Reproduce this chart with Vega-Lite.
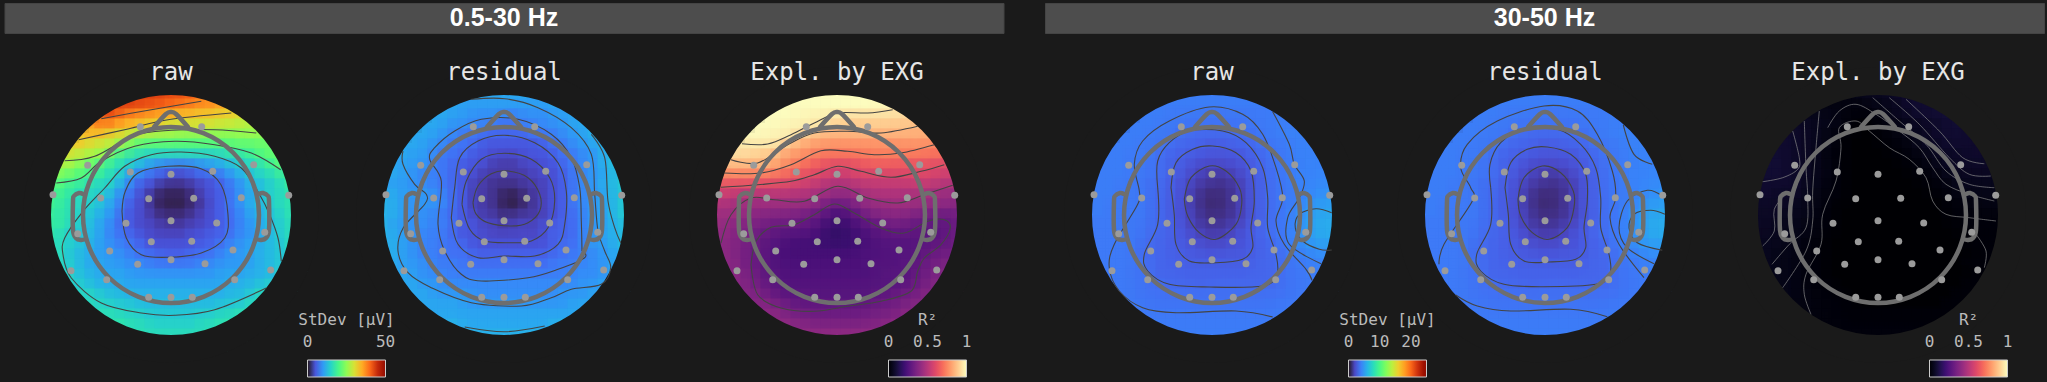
{"$schema":"https://vega.github.io/schema/vega-lite/v6.json","background":"#1a1a1a","padding":{"left":3.5,"top":2,"right":4,"bottom":4},
"config":{"view":{"stroke":null},"title":{"font":"DejaVu Sans Mono","fontSize":24,"fontWeight":"normal","color":"#e6e6e6","baseline":"alphabetic","offset":-18,"anchor":"middle"},
"legend":{"orient":"none","direction":"horizontal","gradientLength":78,"gradientThickness":17,"gradientStrokeColor":"#ccc","gradientStrokeWidth":1,"titleFont":"DejaVu Sans Mono","titleFontSize":16,"titleFontWeight":"normal","titleColor":"#bbb","titleAnchor":"middle","titlePadding":32,"labelFont":"DejaVu Sans Mono","labelFontSize":16,"labelColor":"#bbb","labelOverlap":false}},
"datasets":{
"o":[{"x":0,"y":0}],
"blank":[{"t":""}],
"head":[{"k":"nose","x":[-1.7,-0.5,0,0.5,1.7],"y":[8.8,10.1,10.3,10.1,8.8]},{"k":"earL","x":[-8.8,-9.2,-9.7,-9.8,-9.8,-9.5,-9,-8.5],"y":[2.1,2.2,1.9,1.4,-1.5,-2.3,-2.5,-2.4]},{"k":"earR","x":[8.8,9.2,9.7,9.8,9.8,9.5,9,8.5],"y":[2.1,2.2,1.9,1.4,-1.5,-2.3,-2.5,-2.4]}],
"dots":[{"x":-3.07,"y":8.83},{"x":3.07,"y":8.83},{"x":-8.33,"y":4.97},{"x":8.27,"y":5.03},{"x":-4.07,"y":4.3},{"x":4.17,"y":4.37},{"x":0,"y":4.07},{"x":-11.8,"y":2.03},{"x":11.77,"y":1.97},{"x":-7.03,"y":1.7},{"x":-2.23,"y":1.63},{"x":2.27,"y":1.67},{"x":7.03,"y":1.73},{"x":-4.5,"y":-0.83},{"x":0,"y":-0.57},{"x":4.57,"y":-0.8},{"x":-9.33,"y":-1.87},{"x":9.37,"y":-1.73},{"x":-1.97,"y":-2.67},{"x":2.07,"y":-2.63},{"x":-6.13,"y":-3.6},{"x":6.2,"y":-3.5},{"x":0,"y":-4.47},{"x":-3.33,"y":-4.93},{"x":3.4,"y":-4.87},{"x":-10,"y":-5.57},{"x":9.97,"y":-5.5},{"x":-6.43,"y":-6.47},{"x":6.37,"y":-6.47},{"x":-2.23,"y":-8.23},{"x":0,"y":-8.23},{"x":2.13,"y":-8.23}],
"c1":[{"k":1,"x":[-4.9,-4.57,-3.3,-0.3,3,5,5.7,5.37,3.03,-0.3,-2.97,-4.47,-4.9],"y":[0.37,2.37,4.2,4.87,4.63,3.03,0.03,-2.3,-3.8,-4.23,-3.97,-2.3,0.37]},
{"k":2,"x":[11.03,10.7,9.87,8.87,7.03,4.37,1.03,-1.97,-4.63,-6.63,-8.8,-10.63,-10.8,-9.97,-6.97,-2.97,0.37,4.37,9.53],"y":[-4.63,-2.3,0.03,2.03,4.7,5.87,6.3,6.03,4.87,2.7,0.37,-2.3,-3.97,-6.3,-8.8,-9.8,-10.03,-9.47,-7.3]},
{"k":3,"x":[-11.47,-8.97,-6.97,-3.63,0.37,4.37,8.03,10.97],"y":[3.2,3.7,5.37,6.87,7.37,7.03,6.2,4.53]},
{"k":4,"x":[-10.63,-7.63,-3.63,0.03,4.37,8.53],"y":[5.43,5.87,7.97,8.47,8.53,8.2]},
{"k":5,"x":[-9.23,-4.3,-0.3,6.03],"y":[7.53,8.6,9.53,10.2]},
{"k":6,"x":[-6.97,-1.97,3.03],"y":[9.63,10.53,11.37]}],
"c2":[{"k":1,"x":[-3.1,-2.6,-1.27,0.4,2.4,3.57,3.57,2.4,0.73,-1.6,-2.77,-3.1],"y":[1.23,2.9,4.13,4.4,3.73,2.07,0.4,-0.77,-1.1,-0.77,0.07,1.23]},
{"k":2,"x":[-4.2,-3.77,-2.27,0.07,2.73,4.57,5.07,4.4,2.73,0.73,-1.93,-3.43,-4.2],"y":[1.07,3.4,5.57,6.17,5.57,3.73,1.4,-1.27,-2.6,-2.77,-2.6,-1.43,1.07]},
{"k":3,"x":[-5.27,-4.93,-4.43,-2.6,0.07,3.07,5.4,6.23,6.07,5.4,3.07,0.07,-2.6,-4.6,-5.27],"y":[-0.27,2.73,5.73,7.4,7.97,7.23,5.23,2.4,-0.93,-2.93,-4.1,-4.1,-4.27,-2.93,-0.27]},
{"k":4,"x":[7.8,7.73,7.57,6.73,4.73,1.4,-2.27,-4.93,-6.93,-7.43,-6.27,-6.6,-5.93,-4.27,-2.27,2.4,5.4,8.07,7.8],"y":[-3.6,-0.6,2.73,5.73,8.07,9.57,9.57,8.4,6.73,5.57,3.4,-0.93,-3.6,-5.93,-6.6,-6.27,-5.43,-4.27,-3.6]},
{"k":5,"x":[-3.27,0.07,3.4,6.73,8.73,9.07,9.4,10.07,10.67,9.73,6.73,4.73,1.73,-3.27,-7.27,-9.6,-10.6,-10.07,-7.93,-7.77,-8.93,-10.1,-10.1],"y":[11.57,11.63,10.73,8.73,6.07,2.07,-1.6,-3.6,-5.27,-6.93,-7.43,-8.27,-9.1,-8.77,-7.27,-5.77,-3.6,-1.27,1.07,2.07,3.07,5.07,6.4]},
{"k":6,"x":[8.73,10.07,10.4,11.07,11.67],"y":[8.07,5.73,1.4,-1.27,-2.77]},
{"k":7,"x":[-3.93,0.07,4.07],"y":[-11.2,-11.67,-11.1]}],
"c3":[{"k":1,"x":[-9.5,-6.93,-4.6,-2.27,0.07,3.07,5.57],"y":[7.13,7.1,8.03,9.2,10.2,10.2,10.53]},
{"k":2,"x":[-10.6,-7.93,-4.93,-2.27,1.07,4.4,8.07],"y":[5.53,5.2,7.03,8.2,8.37,8.2,8.87]},
{"k":3,"x":[-11.27,-7.6,-4.6,-1.6,1.07,3.73,6.4,9.73],"y":[4.2,4.2,5.03,6.43,6.37,6.03,6.2,7.03]},
{"k":4,"x":[-11.6,-7.93,-4.6,-2.27,0.07,2.4,5.4,8.4,10.73],"y":[2.77,3.03,3.37,4.03,4.87,4.37,3.77,4.37,5.03]},
{"k":5,"x":[-11.6,-10.6,-8.6,-6.27,-3.27,0.07,3.07,6.07,8.73,11.57],"y":[-2.8,0.03,1.7,1.53,1.37,2.87,1.7,1.2,2.03,2.97]},
{"k":6,"x":[-8.6,-8.1,-6.6,-4.27,-2.27,-0.27,1.73,4.4,6.73,9.07,10.73,11.33,10.4,8.73,8.07,7.4,4.4,1.07,-2.27,-5.6,-7.93,-8.6],"y":[-4.97,-2.63,-1.23,-0.97,0.03,1.1,0.2,-1.3,-1.8,-0.63,-0.47,-1.3,-2.97,-4.3,-5.63,-7.63,-8.63,-9.13,-9.63,-9.3,-7.97,-4.97]}],
"c4":[{"k":1,"x":[-2.77,-2.1,-0.27,1.4,2.73,2.97,2.4,0.4,-1.27,-2.43,-2.77],"y":[1.57,3.73,4.9,4.4,2.73,1.07,-0.93,-2.43,-1.77,-0.1,1.57]},
{"k":2,"x":[-4.1,-3.6,-1.93,0.07,2.4,3.9,4.23,3.9,4.07,3.07,0.4,-2.27,-3.6,-3.77,-4.1],"y":[2.73,5.23,6.57,6.9,6.23,4.4,1.4,-1.27,-3.27,-4.43,-4.77,-4.6,-2.93,0,2.73]},
{"k":3,"x":[-5.43,-5.43,-4.27,-2.27,1.07,3.4,5.07,5.57,5.57,6.4,6.5,5.07,-0.27,-4.27,-6.43,-6.77,-5.43,-5.43],"y":[2.73,5.4,7.23,8.4,8.4,7.23,4.73,1.73,-1.27,-3.93,-5.93,-7.1,-7.2,-6.93,-5.6,-3.93,-0.93,2.73]},
{"k":4,"x":[6.07,2.4,-3.6,-6.93,-9.27,-10.27,-9.77,-7.43,-7.27,-7.77,-6.93,-4.27,-0.27,3.07,5.07,6.4,7.07,6.4,7.23,9.4,10],"y":[-10.2,-9.6,-9.77,-9.27,-7.6,-5.27,-2.93,1.07,2.4,5.07,7.4,9.4,10.8,10.07,8.07,4.73,1.73,-0.6,-2.93,-5.43,-6.53]},
{"k":5,"x":[6.07,7.73,8.23,9.23,8.73,7.57,7.73,10.9],"y":[10.33,7.07,5.07,3.4,1.73,-0.27,-2.93,-4.87]},
{"k":6,"x":[11.97,10.4,8.73,8.33,9.07,10.73,11.97],"y":[0.23,0.63,0.07,-1.27,-2.6,-3.43,-3.5]}],
"c5":[{"k":1,"x":[-2.7,-2.1,-0.27,1.57,2.83,2.9,2.23,0.4,-1.27,-2.43,-2.7],"y":[1.57,3.73,4.9,4.23,2.4,0.73,-1.27,-2.43,-1.77,-0.1,1.57]},
{"k":2,"x":[-4,-3.43,-1.77,0.23,2.57,4.07,4.23,3.9,4.07,3.07,0.4,-2.1,-3.43,-3.67,-4],"y":[2.73,5.23,6.57,6.8,6.07,4.07,1.4,-1.27,-3.27,-4.43,-4.7,-4.6,-2.93,0.07,2.73]},
{"k":3,"x":[-5.43,-5.5,-4.43,-2.1,1.23,3.57,5.07,5.57,5.57,6.4,6.5,5.07,-0.1,-4.1,-6.43,-6.83,-5.43,-5.43],"y":[2.73,5.07,7.23,8.57,8.57,7.07,4.73,1.73,-1.27,-3.93,-5.93,-6.93,-7.17,-6.93,-5.6,-3.93,-0.93,2.73]},
{"k":4,"x":[-8.93,-6.77,-3.43,2.57,6.23],"y":[-8,-9.1,-9.6,-9.43,-10.17]},
{"k":5,"x":[-10.6,-10.1,-7.27,-7.43,-8.43,-7.77,-4.77,-0.1,3.23,5.23,6.73,7.07,6.5,7.4,9.9],"y":[-4.93,-2.93,1.4,2.73,4.73,7.07,9.4,10.9,10.4,8.07,4.4,1.73,-0.27,-2.93,-6.27]},
{"k":6,"x":[7.83,8.9,10.73],"y":[9,6.07,5.07]},
{"k":7,"x":[11.73,10.23,8.23,7.4,8.23,10.9],"y":[1.9,2.47,1.4,-1.27,-3.27,-4.87]},
{"k":8,"x":[12,10.57,8.9,8.4,9.23,11.73],"y":[0.07,0.47,0.07,-1.27,-2.77,-3.53]}],
"c6":[{"k":1,"x":[-11.53,-9.53,-8.03,-7.87,-8.53],"y":[3.33,3.73,4.57,5.73,8.4]},
{"k":2,"x":[-11.53,-10.37,-10.37,-9.2],"y":[-3.1,-1.6,0.57,2.07]},
{"k":3,"x":[-10.6,-8.87,-7.2,-7.03,-7.2,-7.37],"y":[-4.93,-2.93,-1.27,1.73,4.73,9.4]},
{"k":4,"x":[-9.53,-7.2,-6.53,-6.53,-6.2,-5.87],"y":[-7.27,-3.6,-0.6,2.4,6.73,10.4]},
{"k":5,"x":[-6.7,-7.37,-7.2,-5.7,-5.53,-4.2,-3.7,-3.87,-2.2,-0.87,1.13,3.13,4.8,5.47,6.8,9.13,11.8],"y":[-9.93,-7.93,-5.93,-2.93,0.07,3.4,6.73,8.73,9.4,8.4,6.73,5.57,3.73,1.4,0.07,-0.27,-0.6]},
{"k":6,"x":[-5.03,-3.87,-2.2,-0.2,2.13,4.13,5.47,6.8,9.13,11.63],"y":[8.73,10.4,11.07,10.07,8.4,6.73,4.73,3.07,2.07,1.4]},
{"k":7,"x":[-0.53,2.13,4.8,6.8,9.13,11.63],"y":[11.73,9.4,7.07,4.4,3.07,2.73]},
{"k":8,"x":[1.13,4.13,7.13,9.13,11.27],"y":[11.73,9.07,5.73,4.07,3.9]},
{"k":9,"x":[2.8,6.13,8.47,10.63],"y":[11.57,8.4,5.73,5.13]},
{"k":10,"x":[9.8,10.8,10.63],"y":[-1.93,-3.6,-5.27]}],
"raw1":[
{"y":12,"v":[null,null,null,null,null,null,null,null,44,44,43,43,42,42,41,40,39]},
{"y":11,"v":[null,null,null,null,null,null,44,43,42,41,41,40,39,38,37,36,36,35,34]},
{"y":10,"v":[null,null,null,null,null,42,41,38,37,36,35,34,33,33,33,32,32,31,31,30]},
{"y":9,"v":[null,null,null,null,37,37,36,34,33,32,31,30,29,29,29,29,29,28,28,27,27]},
{"y":8,"v":[null,null,null,33,33,32,30,29,27,26,25,25,25,24,24,24,24,24,24,25,25,25]},
{"y":7,"v":[null,null,33,31,29,28,27,24,22,20,20,20,20,20,20,20,20,20,21,21,21,22,22]},
{"y":6,"v":[null,30,28,27,26,25,20,18,16,15,14,14,14,14,14,14,14,15,16,17,19,21,22,23]},
{"y":5,"v":[null,27,25,23,21,19,17,15,13,11,9,8,7,7,8,9,10,11,13,14,15,17,19,21]},
{"y":4,"v":[24,23,21,20,19,17,15,13,9,7,6,5,4,4,5,6,6,8,10,12,14,15,16,18,20]},
{"y":3,"v":[21,19,18,17,15,15,14,10,7,5,4,2,2,2,3,4,5,6,8,10,12,13,15,16,18]},
{"y":2,"v":[20,18,17,15,15,14,11,8,6,4,2,1,1,1,2,4,5,6,8,10,12,14,15,16,17]},
{"y":1,"v":[19,17,16,15,14,12,10,7,5,4,2,1,1,1,2,3,5,6,8,10,12,13,15,16,17]},
{"y":0,"v":[18,17,16,14,13,11,9,6,5,4,3,2,2,2,3,4,5,6,7,9,11,12,14,15,17]},
{"y":-1,"v":[18,17,15,14,12,10,8,6,5,4,4,3,3,3,4,4,5,6,7,9,10,12,13,15,16]},
{"y":-2,"v":[17,15,14,13,12,10,8,7,6,5,4,4,4,4,5,5,6,6,8,9,10,12,13,15,16]},
{"y":-3,"v":[17,15,14,13,11,10,9,8,7,6,5,5,5,5,5,6,6,8,9,10,11,12,13,14,16]},
{"y":-4,"v":[17,15,13,12,11,10,10,9,8,7,7,6,6,6,7,7,8,9,10,10,11,12,13,14,15]},
{"y":-5,"v":[null,15,14,12,11,11,10,10,9,9,8,8,8,8,8,9,9,10,10,10,11,12,13,14]},
{"y":-6,"v":[null,16,14,13,12,11,11,11,10,10,10,10,10,10,10,10,10,11,11,11,12,12,13,15]},
{"y":-7,"v":[null,null,15,14,13,12,12,11,11,11,11,11,11,11,11,11,11,11,12,12,13,14,15]},
{"y":-8,"v":[null,null,null,16,15,14,13,13,12,12,12,12,12,12,12,12,12,12,13,13,15,16]},
{"y":-9,"v":[null,null,null,null,16,15,15,14,14,13,13,13,13,13,13,13,13,14,14,15,16]},
{"y":-10,"v":[null,null,null,null,null,17,16,16,15,15,14,14,14,14,14,15,15,16,16,17]},
{"y":-11,"v":[null,null,null,null,null,null,17,17,16,16,15,15,15,15,15,16,16,17,17]},
{"y":-12,"v":[null,null,null,null,null,null,null,null,17,16,16,16,16,16,16,16,17]}],
"res1":[
{"y":12,"v":[null,null,null,null,null,null,null,null,11,11,11,11,11,11,11,11,11]},
{"y":11,"v":[null,null,null,null,null,null,11,11,10,10,10,10,10,10,10,10,10,11,11]},
{"y":10,"v":[null,null,null,null,null,11,11,10,10,9,9,9,8,8,9,9,9,10,10,11]},
{"y":9,"v":[null,null,null,null,11,11,10,9,9,8,8,7,7,7,8,8,9,9,10,11,11]},
{"y":8,"v":[null,null,null,11,11,10,9,8,7,7,6,6,6,6,6,7,7,8,9,10,11,12]},
{"y":7,"v":[null,null,11,11,10,9,8,7,7,6,5,5,5,5,5,5,6,7,8,9,10,11,12]},
{"y":6,"v":[null,11,11,10,10,8,7,7,6,5,5,4,4,4,5,5,5,6,7,8,9,10,12,13]},
{"y":5,"v":[null,11,10,10,9,8,7,6,5,5,4,3,3,3,4,4,5,5,7,8,9,10,12,13]},
{"y":4,"v":[11,11,10,9,8,8,7,6,5,4,3,3,3,3,3,4,4,5,6,8,9,10,11,13,14]},
{"y":3,"v":[11,10,10,9,9,8,7,6,5,3,3,2,2,2,3,3,4,5,6,8,9,10,12,13,14]},
{"y":2,"v":[12,11,10,10,10,9,8,6,5,3,3,2,1,1,2,3,4,5,6,8,9,10,11,13,14]},
{"y":1,"v":[12,11,10,9,10,9,8,6,5,3,3,2,1,1,2,3,4,5,6,8,9,10,11,13,14]},
{"y":0,"v":[12,11,10,9,9,8,7,6,5,4,3,3,2,3,3,3,4,5,6,7,9,10,11,13,14]},
{"y":-1,"v":[12,10,10,9,9,8,8,6,5,5,4,4,3,4,4,4,5,6,6,7,9,10,11,12,13]},
{"y":-2,"v":[12,11,10,9,8,8,7,6,5,5,4,4,4,4,4,4,5,6,6,7,9,10,11,12,13]},
{"y":-3,"v":[12,11,10,9,8,8,7,7,6,5,5,5,5,5,5,5,5,6,7,7,9,10,10,12,13]},
{"y":-4,"v":[12,11,10,9,8,8,7,7,7,6,6,6,6,6,6,6,6,7,7,8,8,9,10,11,12]},
{"y":-5,"v":[null,11,10,10,9,8,8,8,7,7,7,7,7,7,7,7,7,8,8,8,9,9,10,11]},
{"y":-6,"v":[null,11,11,10,9,9,8,8,8,8,8,8,8,8,8,8,8,8,8,9,9,9,10,11]},
{"y":-7,"v":[null,null,11,11,10,10,9,9,9,9,9,9,9,9,9,9,9,9,9,9,10,10,11]},
{"y":-8,"v":[null,null,null,11,11,10,10,10,10,9,9,9,9,9,9,9,9,9,10,10,10,11]},
{"y":-9,"v":[null,null,null,null,11,11,11,11,10,10,10,10,10,10,10,10,10,10,10,11,11]},
{"y":-10,"v":[null,null,null,null,null,11,11,11,11,11,11,11,11,11,11,11,11,11,11,11]},
{"y":-11,"v":[null,null,null,null,null,null,12,12,11,11,11,11,11,11,11,11,11,12,12]},
{"y":-12,"v":[null,null,null,null,null,null,null,null,12,12,12,12,12,12,12,12,12]}],
"exp1":[
{"y":12,"v":[null,null,null,null,null,null,null,null,100,100,100,100,100,100,100,100,100]},
{"y":11,"v":[null,null,null,null,null,null,100,100,100,100,100,100,100,100,100,100,99,98,97]},
{"y":10,"v":[null,null,null,null,null,100,100,100,99,98,97,96,94,93,93,93,93,93,92,92]},
{"y":9,"v":[null,null,null,null,100,100,99,98,97,96,94,92,90,89,89,89,89,88,88,87,85]},
{"y":8,"v":[null,null,null,100,99,98,97,96,92,87,84,83,83,83,83,83,84,83,83,83,83,82]},
{"y":7,"v":[null,null,95,95,95,95,92,86,82,80,78,77,76,76,76,76,76,76,76,76,76,75,73]},
{"y":6,"v":[null,93,92,91,89,87,83,79,77,74,71,70,70,70,71,72,73,73,72,72,71,70,69,68]},
{"y":5,"v":[null,85,84,84,84,82,79,74,71,67,64,61,59,60,62,64,65,64,64,63,62,61,60,58]},
{"y":4,"v":[75,74,73,73,72,70,68,66,63,61,59,56,54,55,58,58,57,58,58,59,60,58,56,55,53]},
{"y":3,"v":[62,61,60,60,60,59,58,57,55,53,50,47,46,47,49,51,52,52,52,52,52,51,49,47,46]},
{"y":2,"v":[54,52,50,48,48,48,48,48,47,47,44,41,39,40,43,46,47,47,47,46,46,44,43,42,41]},
{"y":1,"v":[47,46,44,43,43,43,43,42,42,40,36,33,30,33,37,41,42,43,44,43,42,41,40,39,38]},
{"y":0,"v":[44,43,44,40,38,37,36,36,34,32,30,25,22,26,30,34,37,38,38,37,34,32,31,31,33]},
{"y":-1,"v":[43,40,38,36,34,32,31,31,30,28,25,20,19,21,25,28,30,32,32,31,29,29,28,30,32]},
{"y":-2,"v":[41,40,37,34,31,29,27,25,25,24,22,19,18,20,22,25,27,28,28,28,28,27,28,30,32]},
{"y":-3,"v":[40,39,36,33,30,27,25,23,22,22,21,20,20,20,22,24,25,26,26,26,27,29,30,31,33]},
{"y":-4,"v":[41,39,36,33,30,27,24,23,23,23,23,23,23,23,24,25,25,26,26,27,28,31,33,34,36]},
{"y":-5,"v":[null,40,37,33,30,27,25,24,24,24,24,24,24,24,24,25,26,26,26,28,30,33,35,37]},
{"y":-6,"v":[null,41,38,35,31,28,26,25,25,25,25,25,25,25,25,25,26,27,27,28,31,34,37,39]},
{"y":-7,"v":[null,null,39,36,33,30,27,26,26,26,26,26,26,26,26,26,27,27,28,30,33,36,39]},
{"y":-8,"v":[null,null,null,39,36,33,30,28,28,28,27,27,27,27,27,27,29,30,32,34,36,39]},
{"y":-9,"v":[null,null,null,null,40,38,35,32,30,30,30,30,29,29,30,31,32,33,35,37,39]},
{"y":-10,"v":[null,null,null,null,null,41,39,37,35,34,33,33,33,33,33,34,35,36,38,40]},
{"y":-11,"v":[null,null,null,null,null,null,42,40,39,38,37,37,37,37,37,38,38,40,41]},
{"y":-12,"v":[null,null,null,null,null,null,null,null,42,41,41,41,41,41,41,41,42]}],
"raw2":[
{"y":12,"v":[null,null,null,null,null,null,null,null,39,39,39,39,39,39,39,39,39]},
{"y":11,"v":[null,null,null,null,null,null,39,39,39,39,39,39,39,39,39,39,39,39,39]},
{"y":10,"v":[null,null,null,null,null,39,39,39,38,38,37,37,36,36,37,37,38,38,39,39]},
{"y":9,"v":[null,null,null,null,39,39,39,38,37,36,35,35,35,35,35,36,37,38,39,40,40]},
{"y":8,"v":[null,null,null,39,39,39,38,37,36,33,32,31,31,31,32,33,35,37,39,40,41,41]},
{"y":7,"v":[null,null,39,39,39,38,37,35,32,31,30,28,26,28,29,30,32,35,37,38,40,41,41]},
{"y":6,"v":[null,39,39,39,38,38,36,32,30,28,26,25,24,24,25,26,30,33,36,38,40,41,41,41]},
{"y":5,"v":[null,39,39,39,38,37,35,32,29,26,23,20,20,20,22,24,28,32,36,38,39,41,42,42]},
{"y":4,"v":[39,39,39,39,38,37,35,32,28,24,20,16,14,14,18,22,26,31,35,38,40,42,42,43,43]},
{"y":3,"v":[39,39,39,38,37,36,33,31,26,23,16,13,11,11,14,20,26,31,35,37,40,42,43,45,45]},
{"y":2,"v":[39,39,39,38,38,37,33,31,26,22,14,10,8,10,13,20,26,31,35,37,40,42,45,47,49]},
{"y":1,"v":[39,39,38,38,38,37,33,30,26,22,14,10,8,10,13,20,26,31,35,37,41,45,50,52,53]},
{"y":0,"v":[39,39,38,38,38,37,33,31,26,22,16,11,10,11,14,20,26,31,35,38,43,49,53,56,56]},
{"y":-1,"v":[38,38,38,38,37,36,33,31,28,23,18,14,13,14,18,23,28,32,35,38,43,50,54,57,57]},
{"y":-2,"v":[38,38,38,38,37,35,32,31,28,25,22,18,16,18,22,25,28,32,35,38,43,49,53,56,56]},
{"y":-3,"v":[38,38,38,38,37,33,32,30,28,26,24,23,22,23,24,25,28,30,32,38,41,45,49,50,50]},
{"y":-4,"v":[38,38,38,38,36,33,32,30,29,28,26,26,25,26,26,26,29,31,32,35,38,41,43,44,44]},
{"y":-5,"v":[null,39,38,38,37,35,32,30,30,29,29,29,29,29,29,29,30,31,32,35,37,38,40,41]},
{"y":-6,"v":[null,39,38,38,36,35,32,31,31,30,30,30,30,30,30,30,31,31,32,35,36,38,39,39]},
{"y":-7,"v":[null,null,38,38,37,35,35,33,32,32,31,31,32,32,32,32,32,32,33,35,36,38,38]},
{"y":-8,"v":[null,null,null,38,37,36,35,35,35,35,35,35,35,35,35,35,35,35,35,36,37,38]},
{"y":-9,"v":[null,null,null,null,38,37,36,36,36,36,36,36,36,36,36,36,36,36,37,38,38]},
{"y":-10,"v":[null,null,null,null,null,39,38,38,38,38,38,38,38,38,38,38,38,38,38,39]},
{"y":-11,"v":[null,null,null,null,null,null,39,39,39,39,39,39,39,39,39,39,39,39,39]},
{"y":-12,"v":[null,null,null,null,null,null,null,null,39,39,39,39,39,39,39,39,39]}],
"exp2":[
{"y":12,"v":[null,null,null,null,null,null,null,null,3,4,5,6,6,7,8,9,9]},
{"y":11,"v":[null,null,null,null,null,null,3,3,3,2,2,3,4,5,6,8,9,9,10]},
{"y":10,"v":[null,null,null,null,null,5,5,4,3,2,1,1,3,5,6,7,8,9,9,10]},
{"y":9,"v":[null,null,null,null,7,6,5,4,3,1,0,0,1,2,4,5,6,7,8,9,9]},
{"y":8,"v":[null,null,null,8,7,6,5,3,2,0,0,0,1,2,3,4,6,7,8,9,9,8]},
{"y":7,"v":[null,null,9,8,7,6,5,3,1,0,0,0,0,1,2,3,5,6,7,8,8,8,8]},
{"y":6,"v":[null,9,9,8,7,6,4,2,1,0,0,0,0,0,1,2,3,5,6,7,7,8,8,7]},
{"y":5,"v":[null,10,9,8,7,6,4,3,1,0,0,0,0,0,0,1,2,3,5,6,7,7,7,7]},
{"y":4,"v":[9,9,9,8,7,6,4,3,1,0,0,0,0,0,0,0,1,2,3,5,6,6,6,6,6]},
{"y":3,"v":[9,8,8,8,7,5,4,2,1,0,0,0,0,0,0,0,0,1,2,3,5,5,5,5,5]},
{"y":2,"v":[8,8,7,7,6,5,3,2,1,0,0,0,0,0,0,0,0,0,1,2,3,4,4,4,4]},
{"y":1,"v":[7,7,7,6,5,4,3,1,0,0,0,0,0,0,0,0,0,0,0,1,2,2,3,3,3]},
{"y":0,"v":[7,7,6,5,5,4,2,1,0,0,0,0,0,0,0,0,0,0,0,1,1,2,2,2,2]},
{"y":-1,"v":[7,6,5,5,4,3,2,1,0,0,0,0,0,0,0,0,0,0,0,0,1,1,1,1,1]},
{"y":-2,"v":[6,6,5,4,4,3,2,0,0,0,0,0,0,0,0,0,0,0,0,0,0,1,1,1,1]},
{"y":-3,"v":[6,5,5,4,3,2,1,0,0,0,0,0,0,0,0,0,0,0,0,0,0,1,1,1,1]},
{"y":-4,"v":[6,5,4,4,3,2,1,0,0,0,0,0,0,0,0,0,0,0,0,0,0,0,1,1,1]},
{"y":-5,"v":[null,5,4,4,3,2,1,0,0,0,0,0,0,0,0,0,0,0,0,0,0,1,1,1]},
{"y":-6,"v":[null,5,4,4,3,2,1,0,0,0,0,0,0,0,0,0,0,0,0,0,0,0,1,1]},
{"y":-7,"v":[null,null,4,4,3,2,1,1,0,0,0,0,0,0,0,0,0,0,0,0,0,1,1]},
{"y":-8,"v":[null,null,null,4,3,3,2,1,1,0,0,0,0,0,0,0,0,0,0,0,1,1]},
{"y":-9,"v":[null,null,null,null,3,3,2,2,1,1,0,0,0,0,0,0,0,0,0,1,1]},
{"y":-10,"v":[null,null,null,null,null,3,2,2,1,1,1,1,1,1,1,1,1,1,1,1]},
{"y":-11,"v":[null,null,null,null,null,null,2,2,2,1,1,1,1,1,1,1,1,1,1]},
{"y":-12,"v":[null,null,null,null,null,null,null,null,2,2,2,2,2,2,2,2,2]}]
},
"spacing":27,
"vconcat":[
{"spacing":39.5,"hconcat":[
{"width":999,"height":30,"view":{"fill":"#4d4d4d","stroke":"#444"},"data":{"values":[{"t":"0.5-30 Hz"}]},"mark":{"type":"text","font":"Liberation Sans","fontWeight":"bold","fontSize":25,"color":"#fff"},"encoding":{"text":{"field":"t"}}},
{"width":999,"height":30,"view":{"fill":"#4d4d4d","stroke":"#444"},"data":{"values":[{"t":"30-50 Hz"}]},"mark":{"type":"text","font":"Liberation Sans","fontWeight":"bold","fontSize":25,"color":"#fff"},"encoding":{"text":{"field":"t"}}}]},
{"bounds":"flush","spacing":0,"resolve":{"scale":{"color":"independent"},"legend":{"color":"independent"}},"hconcat":[
{"width":333,"height":298,"title":"raw","resolve":{"scale":{"x":"independent","y":"independent"}},"encoding":{"x":{"field":"x","type":"quantitative","scale":{"domain":[-16.65,16.65]},"axis":null},"y":{"field":"y","type":"quantitative","scale":{"domain":[-16.5,13.3]},"axis":null}},"layer":[
{"data":{"name":"raw1"},"transform":[{"flatten":["v"]},{"window":[{"op":"row_number","as":"c"}],"groupby":["y"]},{"filter":"datum.v!=null"}],"encoding":{"x":{"field":"c","type":"quantitative","scale":{"domain":[-4,29.3]},"axis":null},"y":{"field":"y","type":"quantitative","scale":{"domain":[-16.15,13.65]},"axis":null},"color":{"field":"v","type":"quantitative","scale":{"scheme":"turbo","domain":[0,50]},"legend":null}},"layer":[{"mark":{"type":"square","size":121,"opacity":1}},{"mark":{"type":"square","size":676,"opacity":0.3}},{"mark":{"type":"square","size":400,"opacity":0.4}}]},
{"data":{"name":"o"},"mark":{"type":"point","filled":false,"size":71824,"stroke":"#1a1a1a","strokeWidth":28,"strokeJoin":"round","opacity":1}},
{"data":{"name":"c1"},"transform":[{"flatten":["x","y"]}],"mark":{"type":"line","interpolate":"cardinal","stroke":"#444","strokeWidth":1.1},"encoding":{"detail":{"field":"k"},"order":{"value":null}}},
{"data":{"name":"o"},"mark":{"type":"point","filled":false,"size":30976,"stroke":"#6e6e6e","strokeWidth":4.5,"opacity":1}},
{"data":{"name":"head"},"transform":[{"flatten":["x","y"]}],"mark":{"type":"line","interpolate":"cardinal","stroke":"#6e6e6e","strokeWidth":4.5,"strokeCap":"round"},"encoding":{"detail":{"field":"k"},"order":{"value":null}}},
{"data":{"name":"dots"},"mark":{"type":"point","filled":true,"size":49,"color":"#9b9b9b","opacity":1}}]},
{"width":333,"height":298,"title":"residual","resolve":{"scale":{"x":"independent","y":"independent"}},"encoding":{"x":{"field":"x","type":"quantitative","scale":{"domain":[-16.65,16.65]},"axis":null},"y":{"field":"y","type":"quantitative","scale":{"domain":[-16.5,13.3]},"axis":null}},"layer":[
{"data":{"name":"res1"},"transform":[{"flatten":["v"]},{"window":[{"op":"row_number","as":"c"}],"groupby":["y"]},{"filter":"datum.v!=null"}],"encoding":{"x":{"field":"c","type":"quantitative","scale":{"domain":[-4,29.3]},"axis":null},"y":{"field":"y","type":"quantitative","scale":{"domain":[-16.15,13.65]},"axis":null},"color":{"field":"v","type":"quantitative","scale":{"scheme":"turbo","domain":[0,50]},"legend":{"title":"StDev [µV]","values":[0,50],"legendX":-39,"legendY":230,"labelOffset":-43,"encoding":{"labels":{"align":{"value":"center"}}}}}},"layer":[{"mark":{"type":"square","size":121,"opacity":1}},{"mark":{"type":"square","size":676,"opacity":0.3}},{"mark":{"type":"square","size":400,"opacity":0.4}}]},
{"data":{"name":"o"},"mark":{"type":"point","filled":false,"size":71824,"stroke":"#1a1a1a","strokeWidth":28,"strokeJoin":"round","opacity":1}},
{"data":{"name":"c2"},"transform":[{"flatten":["x","y"]}],"mark":{"type":"line","interpolate":"cardinal","stroke":"#444","strokeWidth":1.1},"encoding":{"detail":{"field":"k"},"order":{"value":null}}},
{"data":{"name":"o"},"mark":{"type":"point","filled":false,"size":30976,"stroke":"#6e6e6e","strokeWidth":4.5,"opacity":1}},
{"data":{"name":"head"},"transform":[{"flatten":["x","y"]}],"mark":{"type":"line","interpolate":"cardinal","stroke":"#6e6e6e","strokeWidth":4.5,"strokeCap":"round"},"encoding":{"detail":{"field":"k"},"order":{"value":null}}},
{"data":{"name":"dots"},"mark":{"type":"point","filled":true,"size":49,"color":"#9b9b9b","opacity":1}}]},
{"width":333,"height":298,"title":"Expl. by EXG","resolve":{"scale":{"x":"independent","y":"independent"}},"encoding":{"x":{"field":"x","type":"quantitative","scale":{"domain":[-16.65,16.65]},"axis":null},"y":{"field":"y","type":"quantitative","scale":{"domain":[-16.5,13.3]},"axis":null}},"layer":[
{"data":{"name":"exp1"},"transform":[{"flatten":["v"]},{"window":[{"op":"row_number","as":"c"}],"groupby":["y"]},{"filter":"datum.v!=null"}],"encoding":{"x":{"field":"c","type":"quantitative","scale":{"domain":[-4,29.3]},"axis":null},"y":{"field":"y","type":"quantitative","scale":{"domain":[-16.15,13.65]},"axis":null},"color":{"field":"v","type":"quantitative","scale":{"scheme":"magma","domain":[0,100]},"legend":{"title":"R²","values":[0,50,100],"labelExpr":"datum.value/100","legendX":218,"legendY":230,"labelOffset":-43,"encoding":{"labels":{"align":{"value":"center"}}}}}},"layer":[{"mark":{"type":"square","size":121,"opacity":1}},{"mark":{"type":"square","size":676,"opacity":0.3}},{"mark":{"type":"square","size":400,"opacity":0.4}}]},
{"data":{"name":"o"},"mark":{"type":"point","filled":false,"size":71824,"stroke":"#1a1a1a","strokeWidth":28,"strokeJoin":"round","opacity":1}},
{"data":{"name":"c3"},"transform":[{"flatten":["x","y"]}],"mark":{"type":"line","interpolate":"cardinal","stroke":"#444","strokeWidth":1.1},"encoding":{"detail":{"field":"k"},"order":{"value":null}}},
{"data":{"name":"o"},"mark":{"type":"point","filled":false,"size":30976,"stroke":"#6e6e6e","strokeWidth":4.5,"opacity":1}},
{"data":{"name":"head"},"transform":[{"flatten":["x","y"]}],"mark":{"type":"line","interpolate":"cardinal","stroke":"#6e6e6e","strokeWidth":4.5,"strokeCap":"round"},"encoding":{"detail":{"field":"k"},"order":{"value":null}}},
{"data":{"name":"dots"},"mark":{"type":"point","filled":true,"size":49,"color":"#9b9b9b","opacity":1}}]},
{"width":42,"height":298,"data":{"name":"blank"},"mark":{"type":"text"},"encoding":{"text":{"field":"t"}}},
{"width":333,"height":298,"title":"raw","resolve":{"scale":{"x":"independent","y":"independent"}},"encoding":{"x":{"field":"x","type":"quantitative","scale":{"domain":[-16.65,16.65]},"axis":null},"y":{"field":"y","type":"quantitative","scale":{"domain":[-16.5,13.3]},"axis":null}},"layer":[
{"data":{"name":"raw2"},"transform":[{"flatten":["v"]},{"window":[{"op":"row_number","as":"c"}],"groupby":["y"]},{"filter":"datum.v!=null"}],"encoding":{"x":{"field":"c","type":"quantitative","scale":{"domain":[-4,29.3]},"axis":null},"y":{"field":"y","type":"quantitative","scale":{"domain":[-16.15,13.65]},"axis":null},"color":{"field":"v","type":"quantitative","scale":{"scheme":"turbo","domain":[0,250]},"legend":null}},"layer":[{"mark":{"type":"square","size":121,"opacity":1}},{"mark":{"type":"square","size":676,"opacity":0.3}},{"mark":{"type":"square","size":400,"opacity":0.4}}]},
{"data":{"name":"o"},"mark":{"type":"point","filled":false,"size":71824,"stroke":"#1a1a1a","strokeWidth":28,"strokeJoin":"round","opacity":1}},
{"data":{"name":"c4"},"transform":[{"flatten":["x","y"]}],"mark":{"type":"line","interpolate":"cardinal","stroke":"#444","strokeWidth":1.1},"encoding":{"detail":{"field":"k"},"order":{"value":null}}},
{"data":{"name":"o"},"mark":{"type":"point","filled":false,"size":30976,"stroke":"#6e6e6e","strokeWidth":4.5,"opacity":1}},
{"data":{"name":"head"},"transform":[{"flatten":["x","y"]}],"mark":{"type":"line","interpolate":"cardinal","stroke":"#6e6e6e","strokeWidth":4.5,"strokeCap":"round"},"encoding":{"detail":{"field":"k"},"order":{"value":null}}},
{"data":{"name":"dots"},"mark":{"type":"point","filled":true,"size":49,"color":"#9b9b9b","opacity":1}}]},
{"width":333,"height":298,"title":"residual","resolve":{"scale":{"x":"independent","y":"independent"}},"encoding":{"x":{"field":"x","type":"quantitative","scale":{"domain":[-16.65,16.65]},"axis":null},"y":{"field":"y","type":"quantitative","scale":{"domain":[-16.5,13.3]},"axis":null}},"layer":[
{"data":{"name":"raw2"},"transform":[{"flatten":["v"]},{"window":[{"op":"row_number","as":"c"}],"groupby":["y"]},{"filter":"datum.v!=null"}],"encoding":{"x":{"field":"c","type":"quantitative","scale":{"domain":[-4,29.3]},"axis":null},"y":{"field":"y","type":"quantitative","scale":{"domain":[-16.15,13.65]},"axis":null},"color":{"field":"v","type":"quantitative","scale":{"scheme":"turbo","domain":[0,250]},"legend":{"title":"StDev [µV]","values":[0,100,200],"labelExpr":"datum.value/10","legendX":-39,"legendY":230,"labelOffset":-43,"encoding":{"labels":{"align":{"value":"center"}}}}}},"layer":[{"mark":{"type":"square","size":121,"opacity":1}},{"mark":{"type":"square","size":676,"opacity":0.3}},{"mark":{"type":"square","size":400,"opacity":0.4}}]},
{"data":{"name":"o"},"mark":{"type":"point","filled":false,"size":71824,"stroke":"#1a1a1a","strokeWidth":28,"strokeJoin":"round","opacity":1}},
{"data":{"name":"c5"},"transform":[{"flatten":["x","y"]}],"mark":{"type":"line","interpolate":"cardinal","stroke":"#444","strokeWidth":1.1},"encoding":{"detail":{"field":"k"},"order":{"value":null}}},
{"data":{"name":"o"},"mark":{"type":"point","filled":false,"size":30976,"stroke":"#6e6e6e","strokeWidth":4.5,"opacity":1}},
{"data":{"name":"head"},"transform":[{"flatten":["x","y"]}],"mark":{"type":"line","interpolate":"cardinal","stroke":"#6e6e6e","strokeWidth":4.5,"strokeCap":"round"},"encoding":{"detail":{"field":"k"},"order":{"value":null}}},
{"data":{"name":"dots"},"mark":{"type":"point","filled":true,"size":49,"color":"#9b9b9b","opacity":1}}]},
{"width":333,"height":298,"title":"Expl. by EXG","resolve":{"scale":{"x":"independent","y":"independent"}},"encoding":{"x":{"field":"x","type":"quantitative","scale":{"domain":[-16.65,16.65]},"axis":null},"y":{"field":"y","type":"quantitative","scale":{"domain":[-16.5,13.3]},"axis":null}},"layer":[
{"data":{"name":"exp2"},"transform":[{"flatten":["v"]},{"window":[{"op":"row_number","as":"c"}],"groupby":["y"]},{"filter":"datum.v!=null"}],"encoding":{"x":{"field":"c","type":"quantitative","scale":{"domain":[-4,29.3]},"axis":null},"y":{"field":"y","type":"quantitative","scale":{"domain":[-16.15,13.65]},"axis":null},"color":{"field":"v","type":"quantitative","scale":{"scheme":"magma","domain":[0,100]},"legend":{"title":"R²","values":[0,50,100],"labelExpr":"datum.value/100","legendX":218,"legendY":230,"labelOffset":-43,"encoding":{"labels":{"align":{"value":"center"}}}}}},"layer":[{"mark":{"type":"square","size":121,"opacity":1}},{"mark":{"type":"square","size":676,"opacity":0.3}},{"mark":{"type":"square","size":400,"opacity":0.4}}]},
{"data":{"name":"o"},"mark":{"type":"point","filled":false,"size":71824,"stroke":"#1a1a1a","strokeWidth":28,"strokeJoin":"round","opacity":1}},
{"data":{"name":"c6"},"transform":[{"flatten":["x","y"]}],"mark":{"type":"line","interpolate":"cardinal","stroke":"#8a8a8a","strokeWidth":0.7},"encoding":{"detail":{"field":"k"},"order":{"value":null}}},
{"data":{"name":"o"},"mark":{"type":"point","filled":false,"size":30976,"stroke":"#6e6e6e","strokeWidth":4.5,"opacity":1}},
{"data":{"name":"head"},"transform":[{"flatten":["x","y"]}],"mark":{"type":"line","interpolate":"cardinal","stroke":"#6e6e6e","strokeWidth":4.5,"strokeCap":"round"},"encoding":{"detail":{"field":"k"},"order":{"value":null}}},
{"data":{"name":"dots"},"mark":{"type":"point","filled":true,"size":49,"color":"#9b9b9b","opacity":1}}]}
]}]}
